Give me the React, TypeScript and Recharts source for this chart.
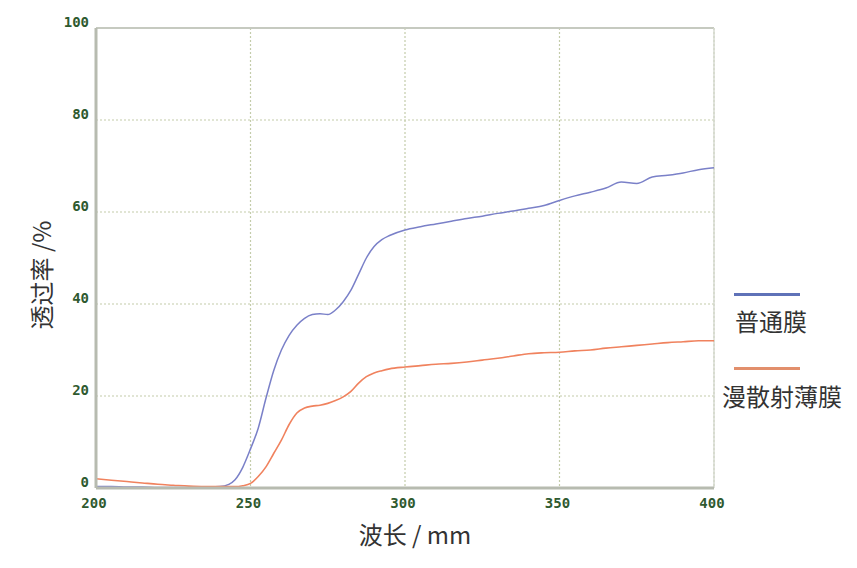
import React from "react";
import { LineChart, Line, XAxis, YAxis, CartesianGrid, ReferenceLine } from "recharts";

const wavelengths = [200,205,210,215,220,225,230,235,240,243,245,247.5,250,252.5,255,257.5,260,262.5,265,267.5,270,272.5,275,277.5,280,282.5,285,287.5,290,292.5,295,300,305,310,315,320,325,330,335,340,345,350,355,360,365,370,375,380,385,390,395,400];
const normalFilm = [0.3,0.3,0.2,0.2,0.1,0.1,0.1,0.2,0.3,0.8,1.8,4.5,8.5,13,19.5,25.5,30,33.2,35.4,36.9,37.7,37.9,37.7,38.7,40.5,43,46.5,50,52.5,54,54.9,56.1,56.8,57.4,58,58.6,59.1,59.7,60.2,60.8,61.4,62.5,63.5,64.3,65.2,66.5,66.2,67.6,68,68.5,69.2,69.6];
const diffuseFilm = [2,1.7,1.4,1.1,0.8,0.6,0.4,0.3,0.3,0.3,0.3,0.5,1,2.5,4.6,7.5,10.4,13.8,16.3,17.4,17.8,18,18.4,19,19.8,21,22.8,24.2,25,25.5,25.9,26.3,26.6,26.9,27.1,27.4,27.8,28.2,28.7,29.2,29.4,29.5,29.8,30,30.4,30.7,31,31.3,31.6,31.8,32,32];
const xTicks = [200, 250, 300, 350, 400];
const yTicks = [0, 20, 40, 60, 80, 100];
const seriesNames = ["普通膜", "漫散射薄膜"];
const xLabel = "波长 / mm";
const yLabel = "透过率 /%";

const data = wavelengths.map((w, i) => ({ w, a: normalFilm[i], b: diffuseFilm[i] }));

const tickFont = { fontFamily: "'DejaVu Sans Mono', monospace", fontWeight: 700, fontSize: 14, fill: "#2f5a2f" };
const cjk = "'Noto Sans CJK SC', 'Noto Sans', sans-serif";

const YTick = (props: any) => {
  const { x, y, payload } = props;
  return (
    <text x={x + 1} y={y - 5} textAnchor="end" dominantBaseline="middle" {...tickFont}>{payload.value}</text>
  );
};
const XTick = (props: any) => {
  const { x, y, payload } = props;
  return (
    <text x={x - 2} y={y + 8} textAnchor="middle" dominantBaseline="middle" {...tickFont}>{payload.value}</text>
  );
};

export default function App() {
  return (
    <div style={{ position: "absolute", left: 0, top: 0, width: 857, height: 568, background: "#fff" }}>
      <LineChart width={857} height={568} data={data} margin={{ top: 28, right: 143, left: 56, bottom: 50 }}>
        <CartesianGrid stroke="#c4ccaa" strokeDasharray="2 2" strokeWidth={1.2} />
        <XAxis
          dataKey="w"
          type="number"
          domain={[200, 400]}
          ticks={xTicks}
          height={30}
          axisLine={{ stroke: "#b7bbb0", strokeWidth: 3 }}
          tickLine={false}
          tick={<XTick />}
        />
        <YAxis
          type="number"
          domain={[0, 100]}
          ticks={yTicks}
          width={40}
          axisLine={{ stroke: "#b7bbb0", strokeWidth: 3 }}
          tickLine={false}
          tick={<YTick />}
        />
        <ReferenceLine y={100} stroke="#c6cac0" strokeWidth={2} />
        <ReferenceLine x={400} stroke="#d6dad0" strokeWidth={1.5} />
        <Line dataKey="a" type="monotone" stroke="#7a80c8" strokeWidth={1.5} dot={false} isAnimationActive={false} />
        <Line dataKey="b" type="monotone" stroke="#f0825e" strokeWidth={1.6} dot={false} isAnimationActive={false} />
      </LineChart>
      <div style={{ position: "absolute", left: 0, top: 275, width: 80, height: 0 }}>
        <div style={{ position: "absolute", left: 40, top: 0, transform: "translate(-50%, -50%) rotate(-90deg)", whiteSpace: "nowrap", fontFamily: cjk, fontSize: 24, color: "#333" }}>{yLabel}</div>
      </div>
      <div style={{ position: "absolute", left: 415, top: 533, transform: "translate(-50%, -50%)", whiteSpace: "nowrap", fontFamily: cjk, fontSize: 24, color: "#333" }}>{xLabel}</div>
      <div style={{ position: "absolute", left: 734, top: 293, width: 66, height: 3, background: "#5f72b8" }} />
      <div style={{ position: "absolute", left: 735, top: 320, transform: "translateY(-50%)", whiteSpace: "nowrap", fontFamily: cjk, fontSize: 24, color: "#333" }}>{seriesNames[0]}</div>
      <div style={{ position: "absolute", left: 734, top: 367, width: 66, height: 3, background: "#e28f6c" }} />
      <div style={{ position: "absolute", left: 722, top: 395, transform: "translateY(-50%)", whiteSpace: "nowrap", fontFamily: cjk, fontSize: 24, color: "#333" }}>{seriesNames[1]}</div>
    </div>
  );
}
